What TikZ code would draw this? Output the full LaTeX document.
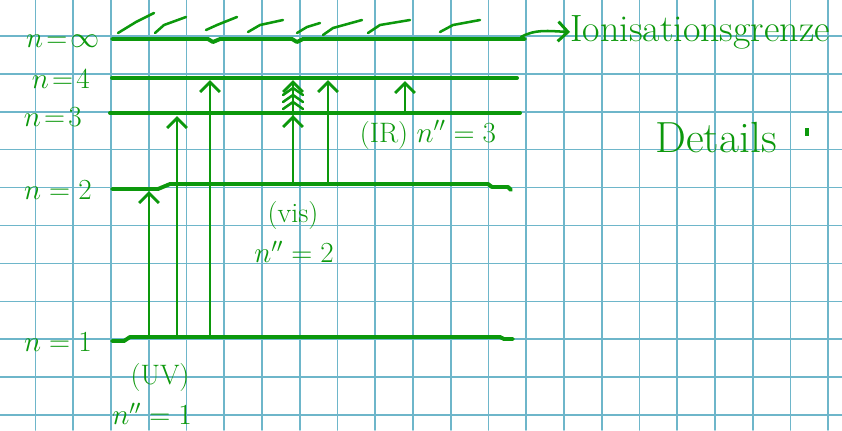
\documentclass[tikz,border=0pt]{standalone}
\usepackage{fontspec}
\usetikzlibrary{arrows.meta}

\definecolor{stift}{RGB}{12,152,12}
\definecolor{raster}{RGB}{110,182,202}

\begin{document}
\begin{tikzpicture}[
    x=0.025cm, y=-0.025cm,
    line cap=round, line join=round,
    niveau/.style={draw=stift, line width=2.8pt},
    uebergang/.style={draw=stift, line width=2.1pt,
      -{Straight Barb[length=7pt, width=14pt, line width=2.1pt]}},
    spitze/.style={draw=stift, line width=1.8pt},
    schrift/.style={text=stift, inner sep=0pt, font=\fontsize{20}{24}\selectfont},
    gross/.style={schrift, font=\fontsize{27}{30}\selectfont}
  ]

    \useasboundingbox (0,0) rectangle (842,430);

    % --- Kariertes Papier ---
    \foreach \i in {0,...,22}
      \draw[raster, line width=1.1pt] ({-2.25+37.75*\i},0) -- ++(0,430);
    \foreach \j in {0,...,11}
      \draw[raster, line width=1.1pt] (0,{-1.9+37.9*\j}) -- ++(842,0);

    % --- Energieniveaus ---
    \def\yInf{39}   % Ionisationsgrenze
    \def\yVier{78}
    \def\yDrei{113}
    \def\yZwei{184}
    \def\yEins{337}

    \draw[niveau] (112,\yInf) -- (208,\yInf) -- (213,42) -- (220,\yInf)
      -- (292,\yInf) -- (297,42) -- (303,\yInf) -- (525,\yInf);
    \draw[niveau] (112,\yVier) -- (517,\yVier);
    \draw[niveau] (110,\yDrei) -- (520,\yDrei);
    \draw[niveau] (112,189) -- (158,189) -- (170,\yZwei) -- (488,\yZwei)
      -- (492,187) -- (508,187) -- (511,190);
    \draw[niveau] (112,341) -- (124,341) -- (130,\yEins) -- (500,\yEins)
      -- (504,339) -- (513,339);

    \node[schrift, anchor=east] (lInf)  at (100,41) {$n\!=\!\infty$};
    \node[schrift, anchor=east] (lVier) at (90,79)  {$n\!=\!4$};
    \node[schrift, anchor=east] (lDrei) at (82,117) {$n\!=\!3$};
    \node[schrift, anchor=east] (lZwei) at (92,190) {$n=2$};
    \node[schrift, anchor=east] (lEins) at (92,342) {$n=1$};

    % --- Kontinuum oberhalb der Grenze ---
    \foreach \xa/\ya/\xb/\yb/\xc/\yc in {
        118/33/136/22/154/13, 155/33/164/25/186/17, 206/30/217/25/237/17,
        248/32/260/25/283/20, 297/33/307/27/320/23, 323/35/333/28/362/20,
        368/33/380/25/410/20, 440/32/453/25/480/20}
      \draw[stift, line width=1.8pt] (\xa,\ya) -- (\xb,\yb) -- (\xc,\yc);

    % --- Uebergaenge ---
    \foreach \name/\x/\ya/\yb in {
        uvA/149/\yEins/191, uvB/177/\yEins/116, uvC/210/\yEins/80,
        visA/293/\yZwei/115, visB/328/\yZwei/80, irA/405/\yDrei/81} {
      \coordinate (\name-a) at (\x,\ya);
      \coordinate (\name-b) at (\x,\yb);
      \draw[uebergang] (\name-a) -- (\name-b);
    }

    % Haeufung der Linien zur Grenze hin
    \coordinate (visH) at (293,80);
    \draw[uebergang] (visA-b) -- (visH);
    \foreach \y in {88,95,102}
      \draw[spitze] (283,\y+7) -- (293,\y) -- (303,\y+7);

    % --- Beschriftungen ---
    \node[schrift] (uv)    at (160,377) {(UV)};
    \node[schrift] (uvN)   at (152,414) {$n''=1$};
    \node[schrift] (vis)   at (293,215) {(vis)};
    \node[schrift] (visN)  at (294,252) {$n''=2$};
    \node[schrift] (ir)    at (428,135) {(IR) $n''=3$};

    \node[gross, anchor=west] (ion) at (570,32) {Ionisationsgrenze};
    \coordinate (ionStart) at (521,37);
    \draw[uebergang, line width=1.8pt] (ionStart) .. controls (535,29) and (548,31) .. (ion.west);

    \node[gross, font=\fontsize{31}{34}\selectfont] (details) at (716,138) {Details};
    \fill[stift] (805,128) rectangle (809,136);

  \end{tikzpicture}
\end{document}
